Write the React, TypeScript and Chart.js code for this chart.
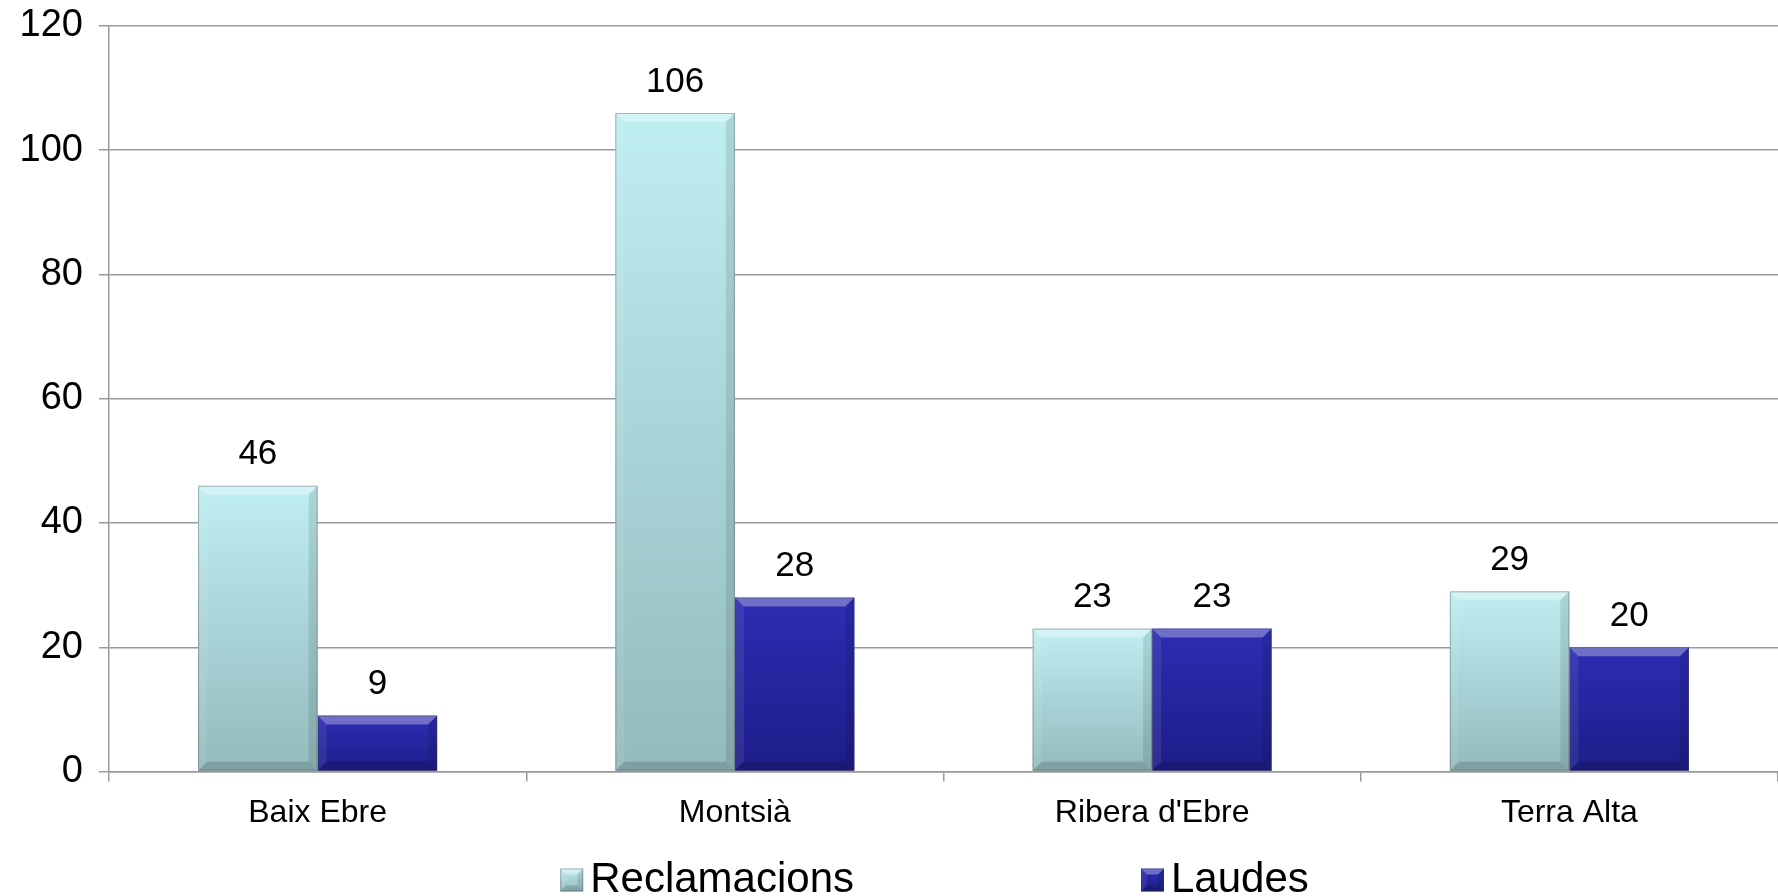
import React, { useEffect, useRef } from "react";
import { Chart, registerables } from "chart.js";

Chart.register(...registerables);

// ---- data ----
const categories = ["Baix Ebre", "Montsià", "Ribera d'Ebre", "Terra Alta"];
const reclamacions = [46, 106, 23, 29];
const laudes = [9, 28, 23, 20];
const seriesNames = ["Reclamacions", "Laudes"];
const yMin = 0;
const yMax = 120;
const yStep = 20;

// ---- styles ----
const FONT = "'Liberation Sans', Arial, Helvetica, sans-serif";
const seriesTop = ["#bfeef1", "#2d2db4"];
const seriesBottom = ["#93babd", "#1d1d88"];
const gridColor = "#9a9a9a";

function gradientFill(top: string, bottom: string) {
  return (ctx: any) => {
    const chart = ctx.chart;
    const ys = chart.scales && chart.scales.y;
    if (!chart.chartArea || !ys || ctx.type !== "data") return bottom;
    const v = ctx.raw as number;
    const y0 = ys.getPixelForValue(v);
    const y1 = ys.getPixelForValue(0);
    if (!isFinite(y0) || !isFinite(y1) || y0 === y1) return bottom;
    const g = chart.ctx.createLinearGradient(0, y0, 0, y1);
    g.addColorStop(0, top);
    g.addColorStop(1, bottom);
    return g;
  };
}

function drawBevel(c: CanvasRenderingContext2D, left: number, top: number, right: number, bottom: number, b: number) {
  const h = bottom - top;
  const bb = Math.min(b, h / 2, (right - left) / 2);
  const poly = (pts: number[][], fill: string) => {
    c.beginPath();
    c.moveTo(pts[0][0], pts[0][1]);
    for (let i = 1; i < pts.length; i++) c.lineTo(pts[i][0], pts[i][1]);
    c.closePath();
    c.fillStyle = fill;
    c.fill();
  };
  poly([[left, top], [right, top], [right - bb, top + bb], [left + bb, top + bb]], "rgba(255,255,255,0.32)");
  poly([[left, top], [left + bb, top + bb], [left + bb, bottom - bb], [left, bottom]], "rgba(255,255,255,0.08)");
  poly([[right, top], [right, bottom], [right - bb, bottom - bb], [right - bb, top + bb]], "rgba(0,0,0,0.10)");
  poly([[left, bottom], [left + bb, bottom - bb], [right - bb, bottom - bb], [right, bottom]], "rgba(0,0,0,0.14)");
  c.strokeStyle = "rgba(60,60,60,0.35)";
  c.lineWidth = 1;
  c.strokeRect(left + 0.5, top + 0.5, right - left - 1, bottom - top - 1);
}

const bevelPlugin = {
  id: "bevelAndLabels",
  afterDatasetsDraw(chart: any) {
    const c: CanvasRenderingContext2D = chart.ctx;
    c.save();
    chart.data.datasets.forEach((ds: any, di: number) => {
      const meta = chart.getDatasetMeta(di);
      meta.data.forEach((bar: any, i: number) => {
        const { x, y, base, width } = bar.getProps(["x", "y", "base", "width"], true);
        drawBevel(c, x - width / 2, y, x + width / 2, base, 9);
        c.fillStyle = "#000";
        c.font = `35px ${FONT}`;
        c.textAlign = "center";
        c.textBaseline = "middle";
        c.fillText(String(ds.data[i]), x, y - 31);
      });
    });
    c.restore();
  },
  afterDraw(chart: any) {
    const c: CanvasRenderingContext2D = chart.ctx;
    c.save();
    const fontSize = 42;
    c.font = `${fontSize}px ${FONT}`;
    c.textBaseline = "middle";
    c.textAlign = "left";
    const box = 23;
    const boxGap = 7;
    const itemGap = 287;
    const names: string[] = chart.data.datasets.map((d: any) => d.label);
    const widths = names.map((n) => c.measureText(n).width);
    let total = 0;
    widths.forEach((w, i) => {
      total += box + boxGap + w + (i < widths.length - 1 ? itemGap : 0);
    });
    const center = (chart.chartArea.left + chart.chartArea.right) / 2 - 9;
    let x = center - total / 2;
    const cy = 880;
    names.forEach((n, i) => {
      const top = cy - box / 2;
      const g = c.createLinearGradient(0, top, 0, top + box);
      g.addColorStop(0, seriesTop[i]);
      g.addColorStop(1, seriesBottom[i]);
      c.fillStyle = g;
      c.fillRect(x, top, box, box);
      drawBevel(c, x, top, x + box, top + box, 6);
      c.fillStyle = "#000";
      c.fillText(n, x + box + boxGap, cy);
      x += box + boxGap + widths[i] + itemGap;
    });
    c.restore();
  },
};

export default function App() {
  const canvasRef = useRef<HTMLCanvasElement | null>(null);

  useEffect(() => {
    document.body.style.margin = "0";
    const canvas = canvasRef.current;
    if (!canvas) return;
    Chart.defaults.font.family = FONT;
    const chart = new Chart(canvas, {
      type: "bar",
      data: {
        labels: categories,
        datasets: [
          {
            label: seriesNames[0],
            data: reclamacions,
            backgroundColor: gradientFill(seriesTop[0], seriesBottom[0]),
            borderWidth: 0,
            barPercentage: 1,
            categoryPercentage: 0.573,
          },
          {
            label: seriesNames[1],
            data: laudes,
            backgroundColor: gradientFill(seriesTop[1], seriesBottom[1]),
            borderWidth: 0,
            barPercentage: 1,
            categoryPercentage: 0.573,
          },
        ],
      },
      options: {
        animation: false,
        responsive: true,
        maintainAspectRatio: false,
        layout: { padding: { top: 26, right: 0, bottom: 70, left: 0 } },
        plugins: {
          legend: { display: false },
          tooltip: { enabled: false },
        },
        scales: {
          x: {
            offset: true,
            grid: {
              display: true,
              drawOnChartArea: false,
              drawTicks: true,
              tickLength: 10,
              offset: true,
              color: gridColor,
              lineWidth: 1.5,
            },
            border: { display: true, color: gridColor, width: 1.5 },
            ticks: {
              color: "#000",
              font: { size: 32, family: FONT },
              padding: 12,
              maxRotation: 0,
              autoSkip: false,
            },
            afterFit: (scale: any) => {
              scale.height = 896 - 70 - 771.5;
              scale.paddingLeft = 0;
              scale.paddingRight = 0;
            },
          },
          y: {
            min: yMin,
            max: yMax,
            ticks: {
              stepSize: yStep,
              color: "#000",
              font: { size: 38, family: FONT },
              padding: 16,
            },
            grid: {
              color: gridColor,
              lineWidth: 1.5,
              tickLength: 10,
            },
            border: { display: true, color: gridColor, width: 1.5 },
            afterFit: (scale: any) => {
              scale.width = 109;
              scale.paddingTop = 0;
              scale.paddingBottom = 0;
            },
          },
        },
      },
      plugins: [bevelPlugin],
    });
    return () => chart.destroy();
  }, []);

  return (
    <div style={{ position: "relative", width: "1778px", height: "896px" }}>
      <canvas ref={canvasRef} />
    </div>
  );
}
